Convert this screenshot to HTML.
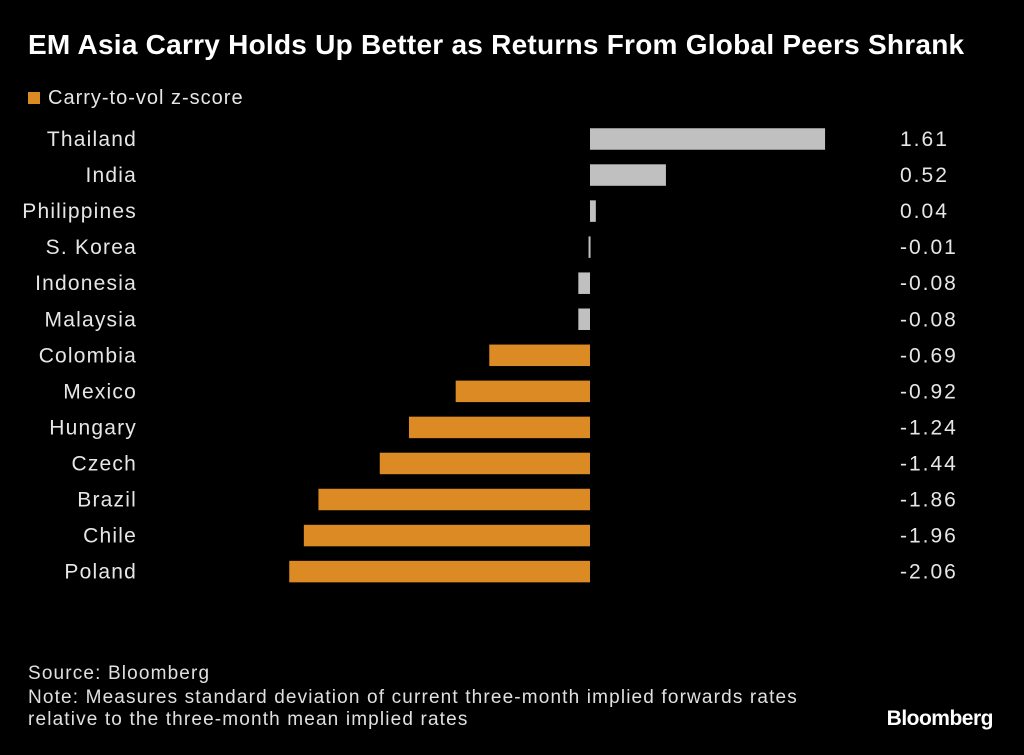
<!DOCTYPE html>
<html><head><meta charset="utf-8"><style>
html,body{margin:0;padding:0;background:#000;}
body{width:1024px;height:755px;position:relative;overflow:hidden;font-family:"Liberation Sans",sans-serif;color:#fff;}
.title{position:absolute;left:28px;top:29px;font-size:28px;font-weight:bold;letter-spacing:0.25px;}
.legend{position:absolute;left:28px;top:87px;font-size:20px;color:#e6e6e6;letter-spacing:1px;}
.legend span.sw{display:inline-block;width:12px;height:12px;background:#db8a24;margin-right:8px;}
.foot{position:absolute;left:28px;font-size:19px;color:#e0e0e0;letter-spacing:1.15px;}
.brand{position:absolute;right:31px;top:707px;font-size:21px;font-weight:bold;letter-spacing:-0.5px;}
</style></head><body>
<div class="title">EM Asia Carry Holds Up Better as Returns From Global Peers Shrank</div>
<div class="legend"><span class="sw"></span>Carry-to-vol z-score</div>
<svg id="chart" width="1024" height="755" style="position:absolute;left:0;top:0"></svg>
<div class="foot" style="top:663px">Source: Bloomberg</div>
<div class="foot" style="top:687px;line-height:22px">Note: Measures standard deviation of current three-month implied forwards rates<br>relative to the three-month mean implied rates</div>
<div class="brand">Bloomberg</div>
<script>
const categories=["Thailand","India","Philippines","S. Korea","Indonesia","Malaysia","Colombia","Mexico","Hungary","Czech","Brazil","Chile","Poland"];
const values=[1.61,0.52,0.04,-0.01,-0.08,-0.08,-0.69,-0.92,-1.24,-1.44,-1.86,-1.96,-2.06];
const labels=["1.61","0.52","0.04","-0.01","-0.08","-0.08","-0.69","-0.92","-1.24","-1.44","-1.86","-1.96","-2.06"];
const isAsia=[true,true,true,true,true,true,false,false,false,false,false,false,false];
const svg=document.getElementById('chart');
const NS='http://www.w3.org/2000/svg';
const x0=590, scale=146;
const xs=v=>x0+v*scale;
const yc=i=>139+i*36.05;
categories.forEach((c,i)=>{
  const v=values[i];
  const r=document.createElementNS(NS,'rect');
  
  
  const a=xs(Math.min(0,v)),b=xs(Math.max(0,v));
  r.setAttribute('x',a);r.setAttribute('width',Math.max(b-a,2));
  r.setAttribute('y',yc(i)-10.75);r.setAttribute('height',21.5);
  r.setAttribute('fill',isAsia[i]?'#c0c0c0':'#db8a24');
  svg.appendChild(r);
  const t=document.createElementNS(NS,'text');
  
  
  t.setAttribute('x',137);t.setAttribute('y',yc(i)+7);
  t.setAttribute('text-anchor','end');t.setAttribute('fill','#e6e6e6');
  t.setAttribute('letter-spacing','1.2');
  t.setAttribute('font-size','21');t.setAttribute('font-family','Liberation Sans, sans-serif');
  t.textContent=c;svg.appendChild(t);
  const l=document.createElementNS(NS,'text');
  
  
  l.setAttribute('x',900);l.setAttribute('y',yc(i)+7);
  l.setAttribute('fill','#e6e6e6');
  l.setAttribute('letter-spacing','2');
  l.setAttribute('font-size','21');l.setAttribute('font-family','Liberation Sans, sans-serif');
  l.textContent=labels[i];svg.appendChild(l);
});
</script>
</body></html>
